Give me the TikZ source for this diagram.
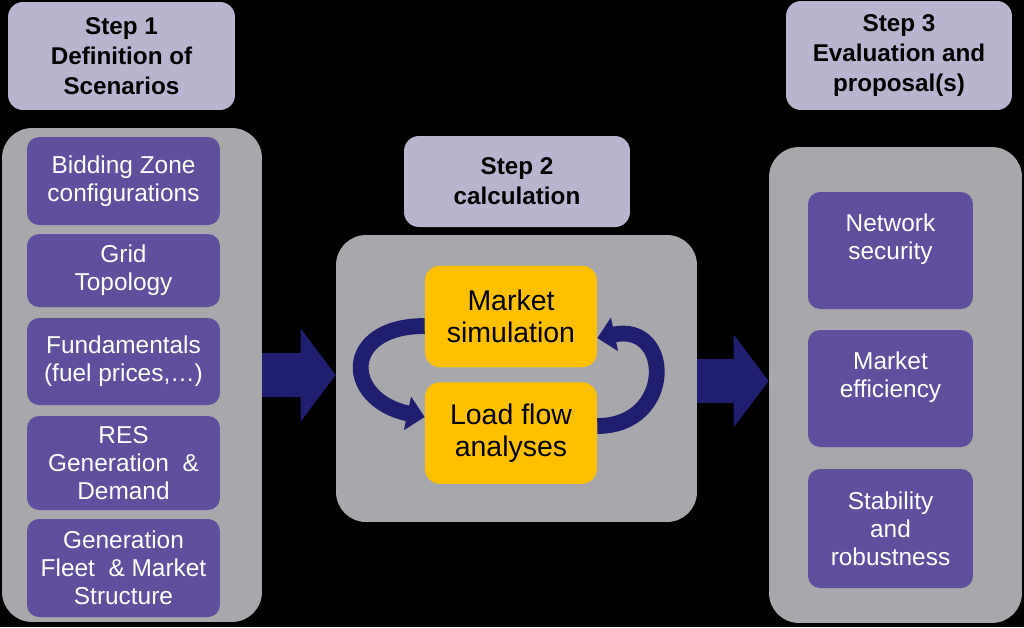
\documentclass[tikz,border=0pt]{standalone}
\usepackage{fontspec}
\setmainfont{Liberation Sans}
\usetikzlibrary{arrows.meta}
\definecolor{headfill}{HTML}{B9B5D1}
\definecolor{panelgray}{HTML}{A8A8AC}
\definecolor{itempurple}{HTML}{5F4F9C}
\definecolor{calcyellow}{HTML}{FFC000}
\definecolor{arrownavy}{HTML}{201E6E}
\begin{document}
\begin{tikzpicture}[x=0.02cm,y=0.02cm,
    header/.style={fill=headfill, rounded corners=0.3cm, align=center, inner sep=0pt,
      font=\fontsize{13.8}{17}\selectfont\bfseries},
    panel/.style={fill=panelgray, rounded corners=0.6cm, inner sep=0pt},
    itembox/.style={fill=itempurple, rounded corners=0.24cm, text=white, align=center, inner sep=0pt,
      font=\fontsize{13.9}{16}\selectfont},
    calcbox/.style={fill=calcyellow, rounded corners=0.3cm, align=center, inner sep=0pt,
      minimum width=3.44cm, minimum height=2.03cm, font=\fontsize{16.2}{18.5}\selectfont},
    bigarrow/.style={draw=arrownavy, line width=25.5pt, -{Triangle[width=52pt,length=20pt]}},
    looparrow/.style={draw=arrownavy, line width=9pt, -{Triangle[width=19pt,length=10pt]}}]
            \useasboundingbox (0,0) rectangle (1024,-627);
            \fill[black] (0,0) rectangle (1024,-627);
            % step 1
            \node[header, minimum width=4.54cm, minimum height=2.16cm] (s1) at (121.5,-56) {Step 1\\Definition of\\Scenarios};
            \node[panel, minimum width=5.2cm, minimum height=9.88cm] (lp) at (132,-375) {};
            \node[itembox, minimum width=3.86cm, minimum height=1.76cm] (bz) at (123.5,-181) {Bidding Zone\\configurations};
            \node[itembox, minimum width=3.86cm, minimum height=1.46cm] (gt) at (123.5,-270.5) {Grid\\Topology};
            \node[itembox, minimum width=3.86cm, minimum height=1.74cm] (fu) at (123.5,-361.5) {Fundamentals\\(fuel prices,\dots)};
            \node[itembox, minimum width=3.86cm, minimum height=1.88cm] (res) at (123.5,-463) {RES\\Generation\ \ \&\\Demand};
            \node[itembox, minimum width=3.86cm, minimum height=1.96cm] (gf) at (123.5,-568) {Generation\\Fleet\ \ \& Market\\Structure};
            % step 2
            \node[header, minimum width=4.52cm, minimum height=1.82cm] (s2) at (517,-181.5) {Step 2\\calculation};
            \node[panel, minimum width=7.22cm, minimum height=5.74cm] (cp) at (516.5,-378.5) {};
            \node[calcbox] (ms) at (511,-316.5) {Market\\simulation};
            \node[calcbox] (lf) at (511,-433) {Load flow\\analyses};
            % step 3
            \node[header, minimum width=4.52cm, minimum height=2.18cm] (s3) at (899,-55.5) {Step 3\\Evaluation and\\proposal(s)};
            \node[panel, minimum width=5.06cm, minimum height=9.52cm] (rp) at (895.5,-385) {};
            \node[itembox, minimum width=3.3cm, minimum height=2.34cm] (ns) at (890.5,-250.5) {Network\\security\\~};
            \node[itembox, minimum width=3.3cm, minimum height=2.34cm] (me) at (890.5,-388.5) {Market\\efficiency\\~};
            \node[itembox, minimum width=3.3cm, minimum height=2.38cm] (sr) at (890.5,-528.5) {Stability\\and\\robustness};
            % arrows
            \draw[bigarrow] (lp.east) -- (lp.east -| cp.west);
            \draw[bigarrow] ([yshift=-0.05cm]cp.east) -- ([yshift=-0.05cm]cp.east -| rp.west);
            \draw[looparrow] ([yshift=-0.19cm]ms.west) to[out=180,in=168,looseness=2.35] ([yshift=0.32cm]lf.west);
            \draw[looparrow] ([yshift=0.14cm]lf.east) to[out=0,in=12,looseness=2.25] ([yshift=-0.43cm]ms.east);
        \end{tikzpicture}
\end{document}
